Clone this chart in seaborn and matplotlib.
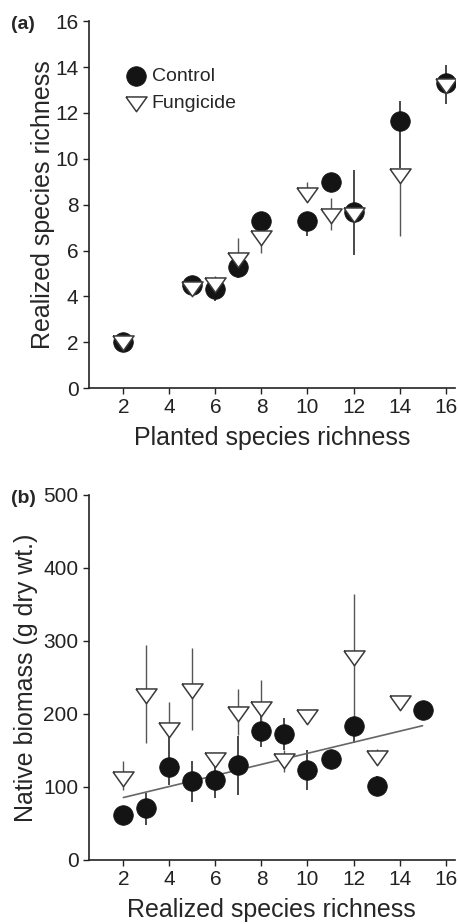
import numpy as np
import pandas as pd
import seaborn as sns
import matplotlib.pyplot as plt

# panel (a): realized vs planted richness
planted = [2, 5, 6, 7, 8, 10, 11, 12, 14, 16]
ctrl_a = [2.0, 4.5, 4.3, 5.3, 7.3, 7.3, 9.0, 7.7, 11.65, 13.3]
ctrl_a_low = [2.0, 4.5, 3.8, 4.8, 7.3, 6.65, 8.6, 5.8, 9.6, 12.4]
ctrl_a_high = [2.0, 4.5, 4.3, 5.3, 7.3, 7.3, 9.4, 9.5, 12.5, 14.1]
fung_a = [2.0, 4.35, 4.55, 5.65, 6.6, 8.45, 7.55, 7.6, 9.3, 13.2]
fung_a_low = [2.0, 4.35, 4.55, 5.65, 5.9, 8.45, 6.9, 7.6, 6.65, 13.2]
fung_a_high = [2.0, 4.35, 4.9, 6.55, 6.6, 9.0, 8.3, 7.6, 9.3, 13.2]

# panel (b): native biomass vs realized richness
realized_c = [2, 3, 4, 5, 6, 7, 8, 9, 10, 11, 12, 13, 15]
ctrl_b = [62, 71, 127, 108, 110, 130, 177, 172, 123, 139, 184, 102, 205]
ctrl_b_low = [62, 48, 103, 80, 85, 89, 155, 150, 96, 139, 160, 90, 205]
ctrl_b_high = [62, 92, 170, 135, 135, 170, 200, 195, 150, 139, 184, 115, 205]
realized_f = [2, 3, 4, 5, 6, 7, 8, 9, 10, 12, 13, 14]
fung_b = [112, 226, 179, 233, 139, 201, 208, 137, 197, 278, 141, 217]
fung_b_low = [96, 160, 179, 178, 139, 171, 180, 121, 197, 184, 141, 217]
fung_b_high = [135, 295, 216, 290, 139, 234, 247, 150, 197, 364, 152, 217]

xticks = [2, 4, 6, 8, 10, 12, 14, 16]

sns.set_style("ticks")
plt.rcParams['font.family'] = ['Liberation Sans', 'DejaVu Sans']

fig = plt.figure(figsize=(4.58, 9.24), dpi=100)
ax1 = fig.add_axes([0.194, 0.580, 0.799, 0.397])
ax2 = fig.add_axes([0.194, 0.0693, 0.799, 0.395])

ctrl_col = '#141414'
fung_edge = '#3a3a3a'
# flattened down-pointing triangle
tri = [(-1, 0.62), (1, 0.62), (0, -0.78), (-1, 0.62)]


def draw(ax, xc, yc, lc, hc, xf, yf, lf, hf, legend):
    yc = np.array(yc); yf = np.array(yf)
    ax.errorbar(xc, yc, yerr=[yc - np.array(lc), np.array(hc) - yc], fmt='none',
                ecolor='#2a2a2a', elinewidth=1.2, capsize=0, zorder=1)
    ax.errorbar(xf, yf, yerr=[yf - np.array(lf), np.array(hf) - yf], fmt='none',
                ecolor='#555555', elinewidth=1.0, capsize=0, zorder=1)
    sns.scatterplot(x=xc, y=yc, ax=ax, marker='o', s=200, color=ctrl_col,
                    edgecolor=ctrl_col, linewidth=0.5, zorder=3,
                    label='Control' if legend else None)
    sns.scatterplot(x=xf, y=yf, ax=ax, marker=tri, s=230, color='white',
                    edgecolor=fung_edge, linewidth=1.1, zorder=4,
                    label='Fungicide' if legend else None)
    ax.set_xlim(0.5, 16.4)
    ax.set_xticks(xticks)
    sns.despine(ax=ax)
    ax.tick_params(labelsize=15, length=4, width=1, colors='#222222')
    for s in ['left', 'bottom']:
        ax.spines[s].set_linewidth(1.2)
        ax.spines[s].set_color('#222222')


draw(ax1, planted, ctrl_a, ctrl_a_low, ctrl_a_high,
     planted, fung_a, fung_a_low, fung_a_high, True)
ax1.set_ylim(0, 16)
ax1.set_yticks(range(0, 17, 2))
ax1.set_xlabel('Planted species richness', fontsize=18, labelpad=6)
ax1.set_ylabel('Realized species richness', fontsize=18, labelpad=0)
ax1.legend(loc='upper left', bbox_to_anchor=(0.05, 0.9), frameon=False,
           fontsize=14, handletextpad=-0.2, labelspacing=0.45, borderpad=0)
ax1.text(-0.212, 0.99, '(a)', transform=ax1.transAxes, fontsize=14,
         fontweight='bold', va='center', ha='left')

draw(ax2, realized_c, ctrl_b, ctrl_b_low, ctrl_b_high,
     realized_f, fung_b, fung_b_low, fung_b_high, False)
df_c = pd.DataFrame({'x': realized_c, 'y': ctrl_b})
sns.regplot(data=df_c, x='x', y='y', ax=ax2, scatter=False, ci=None,
            line_kws={'color': '#666666', 'linewidth': 1.2, 'zorder': 2})
ax2.set_ylim(0, 500)
ax2.set_yticks(range(0, 501, 100))
ax2.set_xlabel('Realized species richness', fontsize=18, labelpad=6)
ax2.set_ylabel('Native biomass (g dry wt.)', fontsize=18, labelpad=4)
ax2.text(-0.212, 0.99, '(b)', transform=ax2.transAxes, fontsize=14,
         fontweight='bold', va='center', ha='left')

fig.savefig('out.png', dpi=100)
